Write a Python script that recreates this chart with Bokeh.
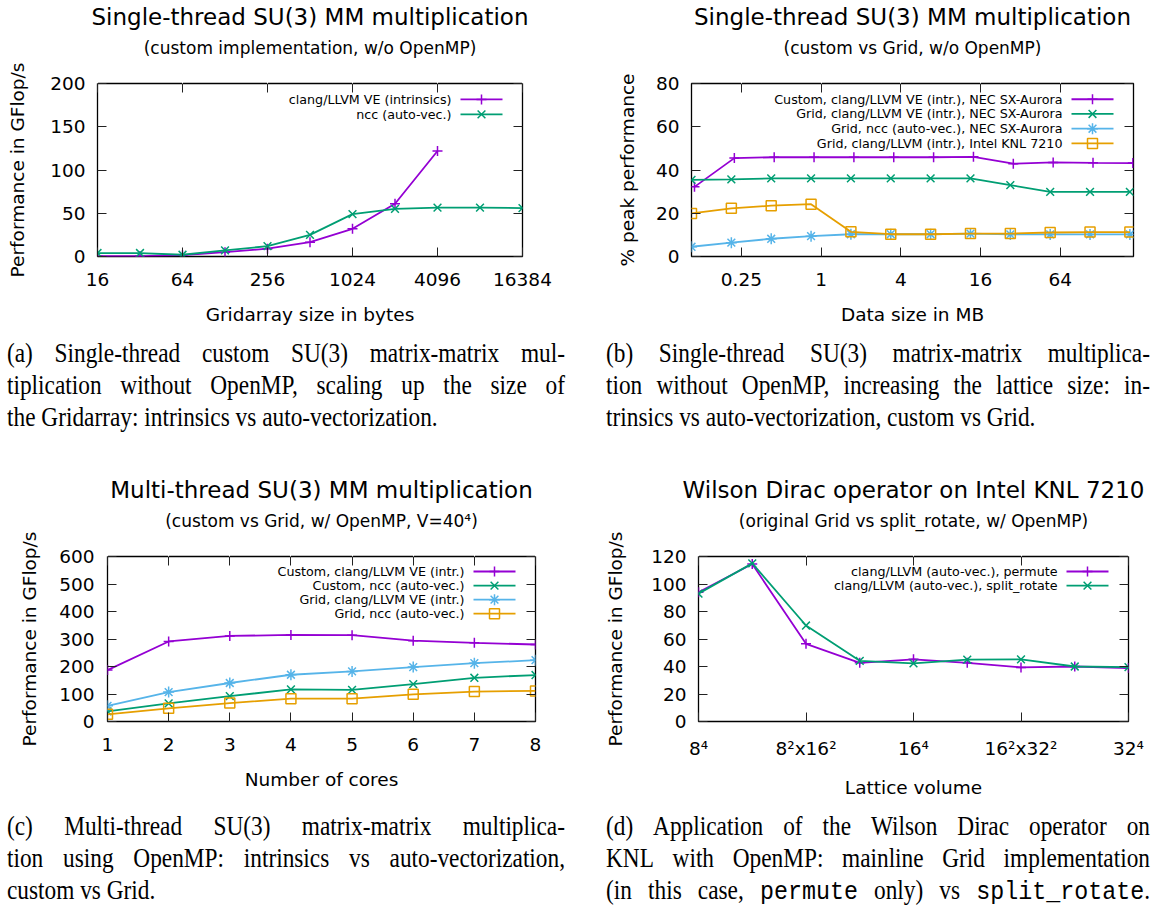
from bokeh.plotting import figure
from bokeh.models import (Range1d, LinearAxis, LogAxis, FixedTicker, CustomJSTickFormatter,
                          LinearScale, Div, Title)
from bokeh.layouts import column, row
from bokeh.embed import file_html
from bokeh.resources import INLINE
from bokeh.core.properties import value

PURPLE = "#9400d3"
GREEN = "#009e73"
BLUE = "#56b4e9"
ORANGE = "#e69f00"
FONT = "DejaVu Sans"

# ---------------- data ----------------
# (a)
a_x = [16, 32, 64, 128, 256, 512, 1024, 2048, 4096, 8192, 16384]
a_clang = [0.5, 0.5, 1.5, 5, 9, 16.5, 32, 61, 122]
a_ncc = [4, 4, 2, 7, 12, 25, 49, 55, 56.5, 56.5, 56]
a_xticks = [16, 64, 256, 1024, 4096, 16384]
a_xtick_labels = ["16", "64", "256", "1024", "4096", "16384"]
a_yticks = [0, 50, 100, 150, 200]

# (b)
b_custom_x = [0.1106, 0.2212, 0.4424, 0.8848, 1.7696, 3.539, 7.078, 14.157, 28.31, 56.63, 113.25, 226.5]
b_grid_x = [0.105, 0.21, 0.42, 0.84, 1.68, 3.36, 6.72, 13.44, 26.88, 53.76, 107.52, 215.04]
b_custom_clang = [32.2, 45.5, 45.9, 45.9, 45.9, 45.9, 45.9, 46.1, 42.9, 43.5, 43.3, 43.2]
b_grid_clang = [35.4, 35.7, 36.1, 36.1, 36.1, 36.1, 36.1, 36.1, 33.0, 29.9, 29.9, 29.9]
b_grid_ncc = [4.5, 6.4, 8.2, 9.4, 10.3, 10.3, 10.3, 10.6, 10.2, 10.2, 10.2, 10.2]
b_grid_knl = [19.9, 22.3, 23.5, 24.2, 11.4, 10.3, 10.3, 10.6, 10.6, 11.1, 11.3, 11.3]
b_xticks = [0.25, 1, 4, 16, 64]
b_xtick_labels = ["0.25", "1", "4", "16", "64"]
b_yticks = [0, 20, 40, 60, 80]

# (c)
c_cores = [1, 2, 3, 4, 5, 6, 7, 8]
c_custom_clang = [187, 291, 311, 315, 314, 294, 286, 280]
c_custom_ncc = [37, 66, 92, 117, 115, 136, 159, 169]
c_grid_clang = [57, 107, 140, 170, 182, 198, 212, 223]
c_grid_ncc = [26, 48, 67, 83, 83, 99, 109, 111]
c_xticks = [1, 2, 3, 4, 5, 6, 7, 8]
c_xtick_labels = ["1", "2", "3", "4", "5", "6", "7", "8"]
c_yticks = [0, 100, 200, 300, 400, 500, 600]

# (d)
d_vol = [4096, 8192, 16384, 32768, 65536, 131072, 262144, 524288, 1048576]
d_permute = [94, 114.5, 56.5, 42.7, 45.2, 42.7, 39.3, 40, 38.9]
d_split = [93, 115, 69.8, 44.1, 42.3, 45, 45.2, 40, 39.5]
d_xticks = [4096, 16384, 65536, 262144, 1048576]
d_xtick_labels = ["8\u2074", "8\u00b2x16\u00b2", "16\u2074", "16\u00b2x32\u00b2", "32\u2074"]
d_yticks = [0, 20, 40, 60, 80, 100, 120]

cap_a = ["(a) Single-thread custom SU(3) matrix-matrix mul-",
         "tiplication without OpenMP, scaling up the size of",
         "the Gridarray: intrinsics vs auto-vectorization."]
cap_b = ["(b) Single-thread SU(3) matrix-matrix multiplica-",
         "tion without OpenMP, increasing the lattice size: in-",
         "trinsics vs auto-vectorization, custom vs Grid."]
cap_c = ["(c) Multi-thread SU(3) matrix-matrix multiplica-",
         "tion using OpenMP: intrinsics vs auto-vectorization,",
         "custom vs Grid."]
cap_d = ["(d) Application of the Wilson Dirac operator on",
         "KNL with OpenMP: mainline Grid implementation",
         "(in this case, {permute} only) vs {split_rotate}."]

TICK_FS = "18.5px"
LAB_FS = "18.5px"


def tick_formatter(vals, labs):
    return CustomJSTickFormatter(args=dict(v=vals, l=labs), code="""
        for (let i = 0; i < v.length; i++) {
            if (Math.abs(tick - v[i]) <= 1e-6 * Math.abs(v[i]) + 1e-12) return l[i];
        }
        return '';""")


def style_axis(ax):
    ax.axis_line_color = None
    ax.major_tick_in = 9
    ax.major_tick_out = 0
    ax.major_tick_line_color = "#222222"
    ax.major_tick_line_width = 1
    ax.minor_tick_line_color = None
    ax.major_label_text_font = FONT
    ax.major_label_text_color = "black"
    ax.major_label_text_font_size = TICK_FS
    ax.axis_label_text_font = FONT
    ax.axis_label_text_font_size = LAB_FS
    ax.axis_label_text_font_style = "normal"
    ax.axis_label_text_color = "black"


def make_panel(W, H, L, T, FW, FH, xtype, xr, yr, xticks, xlabs, yticks,
               xlabel, ylabel, title, subtitle, ylab_standoff, ytick_standoff=12,
               title_gap=20):
    p = figure(width=W, height=H, x_axis_type=xtype, y_axis_type="linear",
               x_range=Range1d(*xr), y_range=Range1d(*yr), title=None,
               toolbar_location=None, output_backend="svg",
               min_border_left=L, min_border_right=W - L - FW,
               min_border_top=T, min_border_bottom=H - T - FH)
    p.grid.visible = False
    p.outline_line_color = "black"
    p.outline_line_width = 1.3
    p.background_fill_color = "white"
    p.border_fill_color = "white"

    xa = p.xaxis[0]
    xa.ticker = FixedTicker(ticks=xticks, minor_ticks=[])
    xa.formatter = tick_formatter(xticks, xlabs)
    style_axis(xa)
    xa.major_label_standoff = 16
    xa.axis_label = xlabel
    xa.axis_label_standoff = 15

    ya = p.yaxis[0]
    ya.ticker = FixedTicker(ticks=yticks, minor_ticks=[])
    style_axis(ya)
    ya.major_label_standoff = ytick_standoff
    ya.axis_label = ylabel
    ya.axis_label_standoff = ylab_standoff

    # mirrored tick marks (gnuplot style), labels not painted
    AxisCls = LogAxis if xtype == "log" else LinearAxis
    top = AxisCls(ticker=FixedTicker(ticks=xticks, minor_ticks=[]),
                  formatter=tick_formatter(xticks, xlabs))
    style_axis(top)
    top.major_label_text_color = None
    top.major_label_text_font_size = "10px"
    top.major_label_standoff = 0
    p.add_layout(top, "above")
    # invisible spacer between frame and subtitle (white outward ticks on white)
    gap = AxisCls(ticker=FixedTicker(ticks=xticks, minor_ticks=[]),
                  formatter=tick_formatter(xticks, xlabs))
    style_axis(gap)
    gap.major_tick_in = 0
    gap.major_tick_out = title_gap
    gap.major_tick_line_color = "white"
    gap.major_label_text_color = None
    gap.major_label_standoff = 0
    p.add_layout(gap, "above")

    right = LinearAxis(ticker=FixedTicker(ticks=yticks, minor_ticks=[]),
                       formatter=CustomJSTickFormatter(code="return '';"))
    style_axis(right)
    right.major_label_text_font_size = "1px"
    right.major_label_standoff = 0
    p.add_layout(right, "right")

    p.add_layout(Title(text=subtitle, align="center", text_font=FONT,
                       text_font_size="17px", text_font_style="normal",
                       text_color="black", standoff=12), "above")
    p.add_layout(Title(text=title, align="center", text_font=FONT,
                       text_font_size="23px", text_font_style="normal",
                       text_color="black", standoff=0), "above")

    # pixel-based helper ranges (frame coordinates) for the key
    p.extra_x_ranges = {"px": Range1d(0, FW)}
    p.extra_y_ranges = {"py": Range1d(0, FH)}
    p.extra_x_scales = {"px": LinearScale()}
    p.extra_y_scales = {"py": LinearScale()}
    return p, FW, FH


MARK = {"cross": 10, "x": 11, "asterisk": 11, "square": 10}


def series(p, x, y, color, marker):
    p.line(x, y, line_color=color, line_width=1.8)
    p.scatter(x, y, marker=marker, size=MARK[marker], line_color=color,
              line_width=1.5, fill_color=None)


def key(p, FW, FH, entries):
    for i, (lab, color, marker) in enumerate(entries):
        yy = FH - 16 - 15 * i
        p.line([FW - 62, FW - 20], [yy, yy], line_color=color, line_width=1.8,
               x_range_name="px", y_range_name="py")
        p.scatter([FW - 41], [yy], marker=marker, size=MARK[marker], line_color=color,
                  line_width=1.5, fill_color=None, x_range_name="px", y_range_name="py")
        p.text([FW - 71], [yy], text=[lab], text_align="right", text_baseline="middle",
               text_font=value(FONT), text_font_size="12.7px", text_color="black",
               x_range_name="px", y_range_name="py")


# ---------------- panel a ----------------
pa, fwa, fha = make_panel(579, 330, 97, 82, 425, 174, "log", (16, 16384), (0, 200),
                          a_xticks, a_xtick_labels, a_yticks,
                          "Gridarray size in bytes", "Performance in GFlop/s",
                          "Single-thread SU(3) MM multiplication",
                          "(custom implementation, w/o OpenMP)", 19)
series(pa, a_x[:len(a_clang)], a_clang, PURPLE, "cross")
series(pa, a_x, a_ncc, GREEN, "x")
key(pa, fwa, fha, [("clang/LLVM VE (intrinsics)", PURPLE, "cross"),
                   ("ncc (auto-vec.)", GREEN, "x")])

# ---------------- panel b ----------------
pb, fwb, fhb = make_panel(579, 330, 112, 83, 442, 176, "log", (0.105, 229), (0, 80),
                          b_xticks, b_xtick_labels, b_yticks,
                          "Data size in MB", "% peak performance",
                          "Single-thread SU(3) MM multiplication",
                          "(custom vs Grid, w/o OpenMP)", 15)
series(pb, b_custom_x, b_custom_clang, PURPLE, "cross")
series(pb, b_grid_x, b_grid_clang, GREEN, "x")
series(pb, b_grid_x, b_grid_ncc, BLUE, "asterisk")
series(pb, b_grid_x, b_grid_knl, ORANGE, "square")
key(pb, fwb, fhb, [("Custom, clang/LLVM VE (intr.), NEC SX-Aurora", PURPLE, "cross"),
                   ("Grid, clang/LLVM VE (intr.), NEC SX-Aurora", GREEN, "x"),
                   ("Grid, ncc (auto-vec.), NEC SX-Aurora", BLUE, "asterisk"),
                   ("Grid, clang/LLVM (intr.), Intel KNL 7210", ORANGE, "square")])

# ---------------- panel c ----------------
pc, fwc, fhc = make_panel(579, 334, 107, 90, 428, 176, "linear", (1, 8), (0, 600),
                          c_xticks, c_xtick_labels, c_yticks,
                          "Number of cores", "Performance in GFlop/s",
                          "Multi-thread SU(3) MM multiplication",
                          "(custom vs Grid, w/ OpenMP, V=40\u2074)", 16, 13)
series(pc, c_cores, c_custom_clang, PURPLE, "cross")
series(pc, c_cores, c_custom_ncc, GREEN, "x")
series(pc, c_cores, c_grid_clang, BLUE, "asterisk")
series(pc, c_cores, c_grid_ncc, ORANGE, "square")
key(pc, fwc, fhc, [("Custom, clang/LLVM VE (intr.)", PURPLE, "cross"),
                   ("Custom, ncc (auto-vec.)", GREEN, "x"),
                   ("Grid, clang/LLVM VE (intr.)", BLUE, "asterisk"),
                   ("Grid, ncc (auto-vec.)", ORANGE, "square")])

# ---------------- panel d ----------------
pd_, fwd, fhd = make_panel(579, 334, 119, 90, 430, 176, "log", (4096, 1048576), (0, 120),
                           d_xticks, d_xtick_labels, d_yticks,
                           "Lattice volume", "Performance in GFlop/s",
                           "Wilson Dirac operator on Intel KNL 7210",
                           "(original Grid vs split_rotate, w/ OpenMP)", 22)
series(pd_, d_vol, d_permute, PURPLE, "cross")
series(pd_, d_vol, d_split, GREEN, "x")
key(pd_, fwd, fhd, [("clang/LLVM (auto-vec.), permute", PURPLE, "cross"),
                    ("clang/LLVM (auto-vec.), split_rotate", GREEN, "x")])


# ---------------- captions ----------------
def word_html(w):
    if "{" in w:
        pre, rest = w.split("{", 1)
        mono, post = rest.split("}", 1)
        return (pre + "<span style=\"font-family:'Liberation Mono';\">" + mono +
                "</span>" + post)
    return w


SX = 0.88


def caption(lines, W, H, left, top, width, justify_last=False, fs=26.5):
    parts = []
    for i, ln in enumerate(lines):
        words = [word_html(w) for w in ln.split(" ")]
        if i < len(lines) - 1 or justify_last:
            spans = "".join("<span style='white-space:nowrap'>%s</span>" % w for w in words)
            parts.append("<div style='display:flex;justify-content:space-between;"
                         "height:32px;line-height:32px;white-space:nowrap'>%s</div>" % spans)
        else:
            parts.append("<div style='height:32px;line-height:32px;white-space:nowrap'>%s</div>"
                         % " ".join(words))
    html = ("<div style=\"font-family:'Liberation Serif';font-size:%.1fpx;color:#000;"
            "width:%.1fpx;position:absolute;left:%dpx;top:%dpx;"
            "transform:scaleX(%.3f);transform-origin:0 0\">%s</div>"
            % (fs, width / SX, left, top, SX, "".join(parts)))
    return Div(text=html, width=W, height=H, margin=(0, 0, 0, 0))


ca = caption(cap_a, 579, 136, 7, 7, 558)
cb = caption(cap_b, 579, 136, 27, 7, 544)
cc = caption(cap_c, 579, 116, 7, 10, 558)
cd = caption(cap_d, 579, 116, 27, 10, 544, justify_last=True)

layout = column(row(pa, pb), row(ca, cb), row(pc, pd_), row(cc, cd))

open("out.html", "w").write(file_html(layout, INLINE))
